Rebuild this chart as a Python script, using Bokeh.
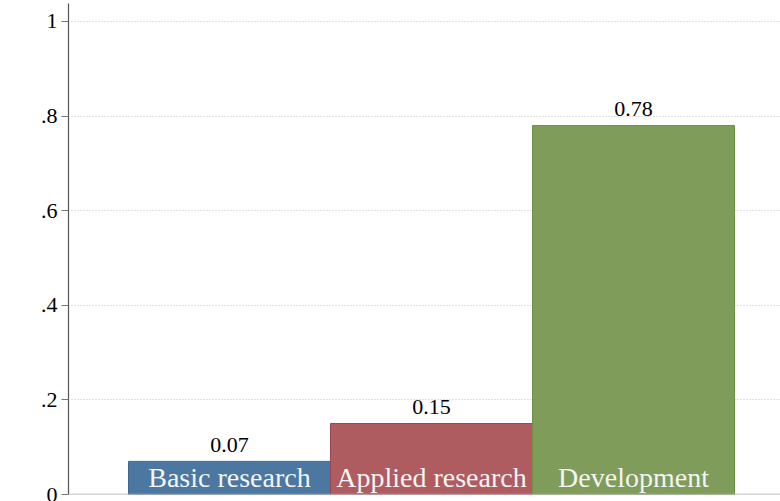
from bokeh.plotting import figure
from bokeh.models import Range1d, FixedTicker, Span, ColumnDataSource, LabelSet
from bokeh.embed import file_html
from bokeh.resources import INLINE

categories = ["Basic research", "Applied research", "Development"]
shares = [0.07, 0.15, 0.78]
share_labels = ["0.07", "0.15", "0.78"]
fill_colors = ["#4b77a0", "#af5c61", "#7f9c5b"]
edge_colors = ["#3d6893", "#a3434d", "#6b9143"]
y_ticks = [0, 0.2, 0.4, 0.6, 0.8, 1.0]
y_tick_labels = ["0", ".2", ".4", ".6", ".8", "1"]

FONT = "Liberation Serif"

xpos = [1, 2, 3]
src = ColumnDataSource(dict(x=xpos, top=shares, cat=categories, lab=share_labels,
                            fill=fill_colors, edge=edge_colors,
                            zero=[0] * len(xpos)))

p = figure(width=780, height=501, output_backend="svg", toolbar_location=None,
           x_range=Range1d(0.203, 3.7277), y_range=Range1d(0, 1.038),
           min_border_left=68, min_border_right=0, min_border_top=3, min_border_bottom=7)
p.outline_line_color = None
p.background_fill_color = "white"

p.vbar(x="x", top="top", bottom=0, width=1.0, source=src,
       fill_color="fill", line_color="edge", line_width=1)

p.add_layout(LabelSet(x="x", y="top", text="lab", source=src, text_align="center",
                      text_baseline="alphabetic", y_offset=9.5,
                      text_font=FONT, text_font_size="22px", text_color="black"))
p.add_layout(LabelSet(x="x", y="zero", text="cat", source=src, text_align="center",
                      text_baseline="alphabetic", y_offset=8,
                      text_font=FONT, text_font_size="28px", text_color="#f4f4f4"))

p.xaxis.visible = False
p.xgrid.visible = False

p.yaxis.ticker = FixedTicker(ticks=y_ticks)
p.yaxis.major_label_overrides = {t: l for t, l in zip(y_ticks, y_tick_labels)}
p.yaxis.major_label_text_font = FONT
p.yaxis.major_label_text_font_size = "22px"
p.yaxis.major_label_text_color = "black"
p.yaxis.major_label_standoff = 4
p.yaxis.major_tick_out = 7
p.yaxis.major_tick_in = 0
p.yaxis.minor_tick_line_color = None
p.yaxis.major_tick_line_color = "#777777"
p.yaxis.axis_line_color = "#555555"
p.yaxis.axis_line_width = 1.2

p.ygrid.ticker = FixedTicker(ticks=y_ticks[1:])
p.ygrid.grid_line_color = "#c0c0c0"
p.ygrid.grid_line_dash = "1 2"
p.ygrid.grid_line_width = 1

p.add_layout(Span(location=0, dimension="width", line_color="#aaaaaa", line_width=1.5))

open("out.html", "w").write(file_html(p, INLINE))
